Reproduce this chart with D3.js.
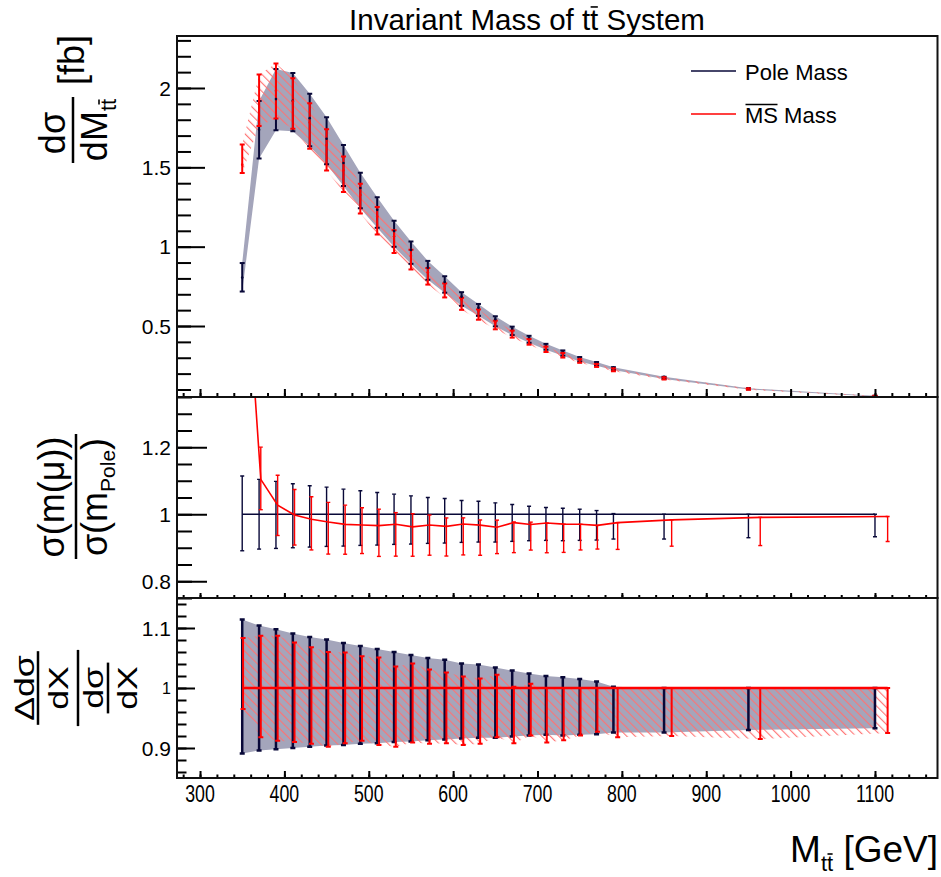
<!DOCTYPE html>
<html>
<head>
<meta charset="utf-8">
<title>Invariant Mass of tt System</title>
<script src="https://d3js.org/d3.v7.min.js"></script>
<style>
  body { margin: 0; background: #fff; }
  text { font-family: "Liberation Sans", Arial, Helvetica, sans-serif; fill: #000; }
</style>
</head>
<body>
<svg width="941" height="877"></svg>
<script>
// bin centres (GeV)
const massX = [350, 370, 390, 410, 430, 450, 470, 490, 510, 530, 550, 570, 590,
               610, 630, 650, 670, 690, 710, 730, 750, 770, 790, 850, 950, 1100];
// pole mass: central value (fb) and relative up/down bounds
const poleVal = [0.805, 1.737, 1.93, 1.92, 1.81, 1.68, 1.527, 1.37, 1.232, 1.098, 0.979, 0.867, 0.777,
                 0.685, 0.615, 0.543, 0.482, 0.428, 0.38, 0.34, 0.30, 0.27, 0.24, 0.18, 0.108, 0.0602];
const poleUp = [1.114, 1.104, 1.098, 1.091, 1.085, 1.081, 1.075, 1.070, 1.065, 1.060, 1.055, 1.050, 1.047,
                1.041, 1.039, 1.034, 1.029, 1.024, 1.020, 1.018, 1.015, 1.011, 1.002, 1.0, 1.0, 1.0];
const poleDn = [0.891, 0.896, 0.898, 0.900, 0.902, 0.904, 0.905, 0.907, 0.908, 0.910, 0.911, 0.913, 0.914,
                0.916, 0.917, 0.917, 0.919, 0.921, 0.922, 0.921, 0.922, 0.923, 0.926, 0.926, 0.930, 0.933];
// MSbar mass: x used in ratio panels, central value (fb), relative up/down bounds
const msX = [351, 372, 392, 412, 432, 452, 472, 492, 512, 532, 552, 572, 592,
             612, 632, 652, 672, 692, 711, 731, 751, 771, 795, 859, 964, 1115];
const msVal = [1.517, 1.918, 1.982, 1.916, 1.783, 1.641, 1.481, 1.326, 1.190, 1.065, 0.942, 0.839, 0.749,
               0.665, 0.595, 0.522, 0.470, 0.415, 0.370, 0.330, 0.291, 0.261, 0.234, 0.177, 0.107, 0.0598];
const msUp = [1.0835, 1.087, 1.087, 1.076, 1.068, 1.060, 1.059, 1.053, 1.051, 1.036, 1.041, 1.031, 1.026,
              1.019, 1.016, 1.022, 1.002, 1.007, 1.0, 1.0, 1.0, 1.0, 1.0, 1.0, 1.0, 1.0];
const msDn = [0.965, 0.918, 0.912, 0.910, 0.907, 0.902, 0.908, 0.912, 0.905, 0.902, 0.909, 0.907, 0.908,
              0.905, 0.907, 0.918, 0.908, 0.921, 0.909, 0.913, 0.921, 0.927, 0.918, 0.920, 0.915, 0.925];

const xTicks = [300, 400, 500, 600, 700, 800, 900, 1000, 1100];
const yTicksTop = [0.5, 1, 1.5, 2];
const yTicksMid = [0.8, 1, 1.2];
const yTicksBot = [0.9, 1, 1.1];

const navy = "#080838", red = "#ff0000", bandFill = "#a4a5bb", hatchCol = "#ff7272";

const svg = d3.select("svg");
const X0 = 177, X1 = 937.5;
const T0 = 36, T1 = 397, M1 = 598, B1 = 778;

const x = d3.scaleLinear().domain([272.7, 1174.1]).range([X0, X1]);
const yTop = d3.scaleLinear().domain([0.0526, 2.3277]).range([T1, T0]);
const yMid = d3.scaleLinear().domain([0.75, 1.35]).range([M1, T1]);
const yBot = d3.scaleLinear().domain([0.85, 1.15]).range([B1, M1]);

const pole = massX.map((m, i) => ({ x: m, v: poleVal[i], ru: poleUp[i], rd: poleDn[i] }));
const ms = massX.map((m, i) => ({ x: m, xr: msX[i], v: msVal[i], ru: msUp[i], rd: msDn[i], r: msVal[i] / poleVal[i] }));

// defs: clip paths and hatch
const defs = svg.append("defs");
[["clipTop", T0, T1], ["clipMid", T1, M1], ["clipBot", M1, B1]].forEach(([id, a, b]) => {
  defs.append("clipPath").attr("id", id).append("rect")
    .attr("x", X0).attr("y", a).attr("width", X1 - X0).attr("height", b - a);
});
const pat = defs.append("pattern").attr("id", "hatch").attr("patternUnits", "userSpaceOnUse")
  .attr("width", 6).attr("height", 6).attr("patternTransform", "rotate(-45)");
pat.append("line").attr("x1", 0.6).attr("y1", 0).attr("x2", 0.6).attr("y2", 6)
  .attr("stroke", hatchCol).attr("stroke-width", 1.1);

function errorBars(g, data, xf, lo, hi, yS, color, w, cap) {
  const b = g.append("g").selectAll("g").data(data).join("g");
  b.append("line").attr("x1", d => x(xf(d))).attr("x2", d => x(xf(d)))
    .attr("y1", d => yS(lo(d))).attr("y2", d => yS(hi(d)))
    .attr("stroke", color).attr("stroke-width", w);
  [lo, hi].forEach(f => {
    b.append("line").attr("x1", d => x(xf(d)) - cap).attr("x2", d => x(xf(d)) + cap)
      .attr("y1", d => yS(f(d))).attr("y2", d => yS(f(d)))
      .attr("stroke", color).attr("stroke-width", w);
  });
}

// ---------- top panel ----------
const gTop = svg.append("g").attr("clip-path", "url(#clipTop)");
gTop.append("path").datum(pole)
  .attr("d", d3.area().x(d => x(d.x)).y0(d => yTop(d.v * d.rd)).y1(d => yTop(d.v * d.ru)))
  .attr("fill", bandFill);
gTop.append("path").datum(ms)
  .attr("d", d3.area().x(d => x(d.x)).y0(d => yTop(d.v * d.rd)).y1(d => yTop(d.v * d.ru)))
  .attr("fill", "url(#hatch)");
errorBars(gTop, pole, d => d.x, d => d.v * d.rd, d => d.v * d.ru, yTop, navy, 2, 2.5);
errorBars(gTop, ms, d => d.x, d => d.v * d.rd, d => d.v * d.ru, yTop, red, 2, 2.5);
gTop.append("g").selectAll("circle").data(pole).join("circle")
  .attr("cx", d => x(d.x)).attr("cy", d => yTop(d.v)).attr("r", 1.3).attr("fill", navy);
gTop.append("g").selectAll("circle").data(ms).join("circle")
  .attr("cx", d => x(d.x)).attr("cy", d => yTop(d.v)).attr("r", 1.3).attr("fill", red);

// ---------- middle panel (ratio) ----------
const gMid = svg.append("g").attr("clip-path", "url(#clipMid)");
gMid.append("path").datum(pole)
  .attr("d", d3.line().x(d => x(d.x)).y(() => yMid(1)))
  .attr("fill", "none").attr("stroke", navy).attr("stroke-width", 1.6);
errorBars(gMid, pole, d => d.x, d => d.rd, d => d.ru, yMid, navy, 1.4, 2);
gMid.append("path").datum(ms)
  .attr("d", d3.line().x(d => x(d.xr)).y(d => yMid(d.r)))
  .attr("fill", "none").attr("stroke", red).attr("stroke-width", 1.6);
errorBars(gMid, ms, d => d.xr, d => d.r * d.rd, d => d.r * d.ru, yMid, red, 1.4, 2);

// ---------- bottom panel (relative uncertainty) ----------
const gBot = svg.append("g").attr("clip-path", "url(#clipBot)");
gBot.append("path").datum(pole)
  .attr("d", d3.area().x(d => x(d.x)).y0(d => yBot(d.rd)).y1(d => yBot(d.ru)))
  .attr("fill", bandFill);
gBot.append("path").datum(ms)
  .attr("d", d3.area().x(d => x(d.xr)).y0(d => yBot(d.rd)).y1(d => yBot(d.ru)))
  .attr("fill", "url(#hatch)");
gBot.append("path").datum(pole)
  .attr("d", d3.line().x(d => x(d.x)).y(() => yBot(1)))
  .attr("fill", "none").attr("stroke", navy).attr("stroke-width", 1.5);
errorBars(gBot, pole, d => d.x, d => d.rd, d => d.ru, yBot, navy, 2.5, 2.5);
errorBars(gBot, ms, d => d.xr, d => d.rd, d => d.ru, yBot, red, 2, 2.5);
gBot.append("path").datum(ms)
  .attr("d", d3.line().x(d => x(d.xr)).y(() => yBot(1)))
  .attr("fill", "none").attr("stroke", red).attr("stroke-width", 2.5);

// ---------- axes ----------
function yTicks(yS, majors, minors, majLen, minLen) {
  [[minors, minLen], [majors, majLen]].forEach(([vals, len]) => {
    svg.append("g").attr("transform", `translate(${X0},0)`)
      .call(d3.axisRight(yS).tickValues(vals).tickSize(len).tickFormat(""))
      .call(g => g.select(".domain").remove())
      .call(g => g.selectAll(".tick line").attr("stroke", "#000").attr("stroke-width", 2));
  });
}
function xTicksAt(yPos, majLen, minLen) {
  [[d3.range(280, 1171, 20), minLen], [xTicks, majLen]].forEach(([vals, len]) => {
    svg.append("g").attr("transform", `translate(0,${yPos})`)
      .call(d3.axisTop(x).tickValues(vals).tickSize(len).tickFormat(""))
      .call(g => g.select(".domain").remove())
      .call(g => g.selectAll(".tick line").attr("stroke", "#000").attr("stroke-width", 2));
  });
}
function yLabels(yS, vals, sizeOf) {
  svg.append("g").selectAll("text").data(vals).join("text")
    .attr("x", 171).attr("y", d => yS(d)).attr("dy", "0.36em")
    .attr("text-anchor", "end").style("font-size", d => sizeOf(d) + "px")
    .text(d => d3.format("~g")(d));
}

yTicks(yTop, yTicksTop, d3.range(0.1, 2.31, 0.1).map(v => +v.toFixed(2)), 28, 14);
yTicks(yMid, yTicksMid, d3.range(0.75, 1.351, 0.05).map(v => +v.toFixed(2)), 30, 15);
yTicks(yBot, yTicksBot, d3.range(0.86, 1.141, 0.02).map(v => +v.toFixed(2)), 18, 9.5);
xTicksAt(T1, 8, 4);
xTicksAt(M1, 5, 3);
xTicksAt(B1, 7, 3.5);

yLabels(yTop, yTicksTop, () => 21);
yLabels(yMid, yTicksMid, () => 21);
yLabels(yBot, yTicksBot, d => (d === 1 ? 16 : 21));

svg.append("g").selectAll("text").data(xTicks).join("text")
  .attr("transform", d => `translate(${x(d)},802) scale(0.74,1)`)
  .attr("text-anchor", "middle").style("font-size", "24px")
  .text(d => d);

// frames
[[T0, T1], [T1, M1], [M1, B1]].forEach(([a, b]) => {
  svg.append("rect").attr("x", X0).attr("y", a).attr("width", X1 - X0).attr("height", b - a)
    .attr("fill", "none").attr("stroke", "#111").attr("stroke-width", 2);
});

// bar drawn over one or more characters of a text element
function overline(txt, from, to, frac) {
  const node = txt.node();
  const a = node.getExtentOfChar(from), b = node.getExtentOfChar(to);
  const yy = a.y + a.height * frac;
  d3.select(node.parentNode).append("line")
    .attr("x1", a.x + 0.5).attr("x2", b.x + b.width - 0.5)
    .attr("y1", yy).attr("y2", yy).attr("stroke", "#000").attr("stroke-width", 1.6);
}

// title
const title = svg.append("text").attr("x", 527).attr("y", 30).attr("text-anchor", "middle")
  .style("font-size", "29.5px").text("Invariant Mass of tt System");
overline(title, 19, 19, 0.12);

// legend
const leg = svg.append("g");
leg.append("line").attr("x1", 691).attr("x2", 736).attr("y1", 71).attr("y2", 71).attr("stroke", navy).attr("stroke-width", 1.6);
leg.append("line").attr("x1", 691).attr("x2", 736).attr("y1", 114).attr("y2", 114).attr("stroke", red).attr("stroke-width", 1.6);
leg.append("text").attr("x", 745).attr("y", 80).style("font-size", "22px").text("Pole Mass");
const msLab = leg.append("text").attr("x", 745).attr("y", 123).style("font-size", "22px").text("MS Mass");
overline(msLab, 0, 1, 0.06);

// x-axis title
const xt = svg.append("text").attr("x", 938).attr("y", 862).attr("text-anchor", "end").style("font-size", "37px");
xt.append("tspan").text("M");
xt.append("tspan").attr("dy", 9).style("font-size", "22px").text("tt");
xt.append("tspan").attr("dy", -9).text(" [GeV]");
overline(xt, 2, 2, 0.12);

// y title, top panel
const gl1 = svg.append("g").attr("transform", "translate(73,130) rotate(-90)");
gl1.append("line").attr("x1", -33).attr("x2", 33).attr("stroke", "#000").attr("stroke-width", 2.5);
gl1.append("text").attr("x", -3).attr("y", -8).attr("text-anchor", "middle").style("font-size", "36px").text("dσ");
const den1 = gl1.append("text").attr("x", 0).attr("y", 34).attr("text-anchor", "middle").style("font-size", "36px");
den1.append("tspan").text("dM");
den1.append("tspan").attr("dy", 9).style("font-size", "22px").text("tt");
overline(den1, 3, 3, 0.12);
gl1.append("text").attr("x", 45).attr("y", 11).style("font-size", "36px").text("[fb]");

// y title, middle panel
const gl2 = svg.append("g").attr("transform", "translate(76,497) rotate(-90)");
gl2.append("line").attr("x1", -62).attr("x2", 63).attr("stroke", "#000").attr("stroke-width", 2.5);
gl2.append("text").attr("x", 0).attr("y", -12).attr("text-anchor", "middle").style("font-size", "36px").text("σ(m(μ))");
const den2 = gl2.append("text").attr("x", 0).attr("y", 31).attr("text-anchor", "middle").style("font-size", "36px");
den2.append("tspan").text("σ(m");
den2.append("tspan").attr("dy", 8).style("font-size", "21px").text("Pole");
den2.append("tspan").attr("dy", -8).text(")");

// y title, bottom panel
const gl3 = svg.append("g").attr("transform", "translate(78,688) scale(1,1.27) rotate(-90)");
gl3.append("line").attr("x1", -30).attr("x2", 30).attr("stroke", "#000").attr("stroke-width", 2.5);
gl3.append("line").attr("x1", -29).attr("x2", 29).attr("y1", -40).attr("y2", -40).attr("stroke", "#000").attr("stroke-width", 2.5);
gl3.append("text").attr("x", 0).attr("y", -44).attr("text-anchor", "middle").style("font-size", "28px").text("Δdσ");
gl3.append("text").attr("x", 0).attr("y", -10).attr("text-anchor", "middle").style("font-size", "28px").text("dX");
gl3.append("line").attr("x1", -20).attr("x2", 20).attr("y1", 30).attr("y2", 30).attr("stroke", "#000").attr("stroke-width", 2.5);
gl3.append("text").attr("x", 0).attr("y", 25).attr("text-anchor", "middle").style("font-size", "28px").text("dσ");
gl3.append("text").attr("x", 0).attr("y", 59).attr("text-anchor", "middle").style("font-size", "28px").text("dX");
</script>
</body>
</html>
